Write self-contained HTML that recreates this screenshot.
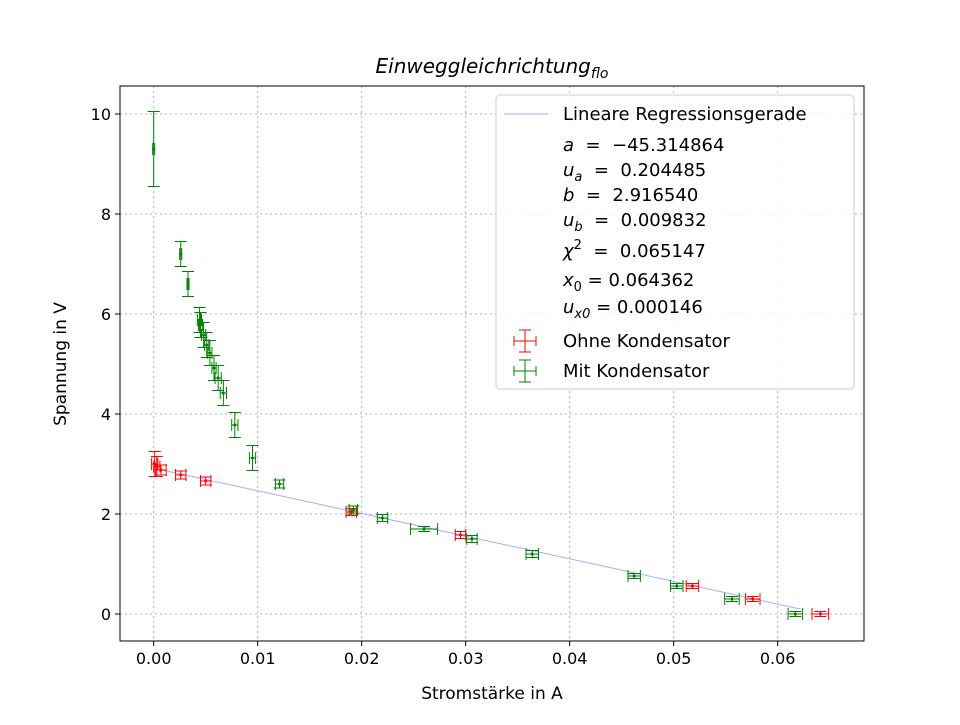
<!DOCTYPE html>
<html><head><meta charset="utf-8"><style>
body{margin:0;background:#fff;font-family:"Liberation Sans","DejaVu Sans",sans-serif}
svg text{font-family:"DejaVu Sans","Liberation Sans",sans-serif}
</style></head><body>
<svg id="chart" width="960" height="720" xmlns="http://www.w3.org/2000/svg">
<rect width="960" height="720" fill="#fff"/>
<g id="grid"></g>
<g id="fitline"></g>
<g id="marks"></g>
<rect x="120" y="86" width="744" height="555" fill="none" stroke="#000" stroke-width="1"/>
<g id="ticks"></g>
<text x="492" y="73" text-anchor="middle" font-size="20" font-style="italic">Einweggleichrichtung<tspan font-size="14" dy="5">flo</tspan></text>
<text x="492" y="699" text-anchor="middle" font-size="17">Stromstärke in A</text>
<text transform="translate(66,364) rotate(-90)" text-anchor="middle" font-size="17">Spannung in V</text>
<g>
<rect x="496" y="95" width="358" height="294" rx="4" fill="#fff" fill-opacity="0.85" stroke="#ccc"/>
<line x1="504" y1="114" x2="548" y2="114" stroke="#aaf" stroke-width="1"/>
<g font-size="18" fill="#000">
<text x="563" y="120">Lineare Regressionsgerade</text>
<text x="563" y="151" xml:space="preserve"><tspan font-style="italic">a</tspan>  =  −45.314864</text>
<text x="563" y="176" xml:space="preserve"><tspan font-style="italic">u</tspan><tspan font-style="italic" font-size="13" dy="5">a</tspan><tspan dy="-5">  =  0.204485</tspan></text>
<text x="563" y="201" xml:space="preserve"><tspan font-style="italic">b</tspan>  =  2.916540</text>
<text x="563" y="226" xml:space="preserve"><tspan font-style="italic">u</tspan><tspan font-style="italic" font-size="13" dy="5">b</tspan><tspan dy="-5">  =  0.009832</tspan></text>
<text x="563" y="257" xml:space="preserve"><tspan font-style="italic">χ</tspan><tspan font-size="13" dy="-8">2</tspan><tspan dy="8">  =  0.065147</tspan></text>
<text x="563" y="286" xml:space="preserve"><tspan font-style="italic">x</tspan><tspan font-size="13" dy="5">0</tspan><tspan dy="-5"> = 0.064362</tspan></text>
<text x="563" y="313" xml:space="preserve"><tspan font-style="italic">u</tspan><tspan font-style="italic" font-size="13" dy="5">x0</tspan><tspan dy="-5"> = 0.000146</tspan></text>
<text x="563" y="347">Ohne Kondensator</text>
<text x="563" y="377">Mit Kondensator</text>
</g>
<g stroke="red" stroke-width="1"><line x1="514" y1="341" x2="536" y2="341"/><line x1="525" y1="330" x2="525" y2="352"/><line x1="519" y1="330" x2="531" y2="330"/><line x1="519" y1="352" x2="531" y2="352"/><line x1="514" y1="336" x2="514" y2="346"/><line x1="536" y1="336" x2="536" y2="346"/></g>
<g stroke="green" stroke-width="1"><line x1="514" y1="371" x2="536" y2="371"/><line x1="525" y1="360" x2="525" y2="382"/><line x1="519" y1="360" x2="531" y2="360"/><line x1="519" y1="382" x2="531" y2="382"/><line x1="514" y1="366" x2="514" y2="376"/><line x1="536" y1="366" x2="536" y2="376"/></g>
</g>
</svg>
<script>
const xTicks=[0,0.01,0.02,0.03,0.04,0.05,0.06];
const xTickLabels=["0.00","0.01","0.02","0.03","0.04","0.05","0.06"];
const yTicks=[0,2,4,6,8,10];
const yTickLabels=["0","2","4","6","8","10"];
const redX=[0.0001,0.0003,0.0007,0.0026,0.0050,0.0190,0.0295,0.0518,0.0576,0.0641];
const redY=[3.0,2.95,2.88,2.78,2.66,2.04,1.58,0.56,0.30,0.0];
const redXerr=[0.0003,0.0003,0.0005,0.0005,0.0005,0.0005,0.0005,0.0006,0.0007,0.0008];
const redYerr=[0.25,0.2,0.1,0.08,0.08,0.07,0.07,0.05,0.05,0.05];
const greenX=[0.0000,0.0026,0.0033,0.0044,0.0045,0.0048,0.0051,0.0054,0.0058,0.0062,0.0067,0.0078,0.0095,0.0121,0.0192,0.0220,0.0260,0.0306,0.0364,0.0462,0.0503,0.0556,0.0617];
const greenY=[9.3,7.2,6.6,5.88,5.78,5.58,5.38,5.22,4.92,4.72,4.42,3.78,3.12,2.6,2.08,1.92,1.70,1.50,1.20,0.76,0.56,0.30,0.0];
const greenXerr=[0.0001,0.0001,0.0001,0.0002,0.0002,0.0002,0.0002,0.0002,0.0002,0.0003,0.0003,0.0003,0.0003,0.0004,0.0004,0.0005,0.0013,0.0005,0.0006,0.0006,0.0006,0.0007,0.0007];
const greenYerr=[0.75,0.25,0.25,0.25,0.25,0.25,0.25,0.25,0.25,0.25,0.25,0.25,0.25,0.08,0.08,0.07,0.05,0.07,0.07,0.05,0.05,0.05,0.05];
const fitA=-45.314864, fitB=2.916540;
const fitRange=[0.0002,0.0622];

const NS="http://www.w3.org/2000/svg";
const X0=120,X1=864,Y0=641,Y1=86,XMIN=-0.00324,XMAX=0.0683,YMIN=-0.54,YMAX=10.56;
function sx(v){return X0+(v-XMIN)/(XMAX-XMIN)*(X1-X0);}
function sy(v){return Y0-(v-YMIN)/(YMAX-YMIN)*(Y0-Y1);}
function mk(tag,attrs,parent){const e=document.createElementNS(NS,tag);for(const k in attrs)e.setAttribute(k,attrs[k]);parent.appendChild(e);return e;}
const grid=document.getElementById('grid'),ticks=document.getElementById('ticks');
xTicks.forEach((t,i)=>{const x=sx(t);
 const g=mk('line',{x1:x,x2:x,y1:Y1,y2:Y0,stroke:'#b0b0b0','stroke-dasharray':'2,3'},grid);
 
 
 mk('line',{x1:x,x2:x,y1:Y0,y2:Y0+5,stroke:'#000'},ticks);
 const tx=mk('text',{x:x,y:Y0+23,'text-anchor':'middle','font-size':'16'},ticks);tx.textContent=xTickLabels[i];
 
 
});
yTicks.forEach((t,i)=>{const y=sy(t);
 const g=mk('line',{x1:X0,x2:X1,y1:y,y2:y,stroke:'#b0b0b0','stroke-dasharray':'2,3'},grid);
 
 
 mk('line',{x1:X0-5,x2:X0,y1:y,y2:y,stroke:'#000'},ticks);
 const tx=mk('text',{x:X0-9,y:y+6,'text-anchor':'end','font-size':'16'},ticks);tx.textContent=yTickLabels[i];
 
 
});
const fl=mk('line',{x1:sx(fitRange[0]),y1:sy(fitA*fitRange[0]+fitB),x2:sx(fitRange[1]),y2:sy(fitA*fitRange[1]+fitB),stroke:'#aaf','stroke-width':1},document.getElementById('fitline'));


const marks=document.getElementById('marks');
function drawSeries(xs,ys,xe,ye,col,name){
 xs.forEach((v,i)=>{
  const g=mk('g',{stroke:col,'stroke-width':1,fill:col},marks);
  
  
  const x=sx(v),y=sy(ys[i]),xa=sx(v-xe[i]),xb=sx(v+xe[i]),ya=sy(ys[i]+ye[i]),yb=sy(ys[i]-ye[i]);
  mk('line',{x1:xa,x2:xb,y1:y,y2:y},g);
  mk('line',{x1:x,x2:x,y1:ya,y2:yb},g);
  mk('line',{x1:x-6,x2:x+6,y1:ya,y2:ya},g);
  mk('line',{x1:x-6,x2:x+6,y1:yb,y2:yb},g);
  mk('line',{x1:xa,x2:xa,y1:y-6,y2:y+6},g);
  mk('line',{x1:xb,x2:xb,y1:y-6,y2:y+6},g);
  mk('circle',{cx:x,cy:y,r:1.5,stroke:'none'},g);
 });
}
drawSeries(redX,redY,redXerr,redYerr,'red','point-ohne-kondensator');
drawSeries(greenX,greenY,greenXerr,greenYerr,'green','point-mit-kondensator');
</script>
</body></html>
